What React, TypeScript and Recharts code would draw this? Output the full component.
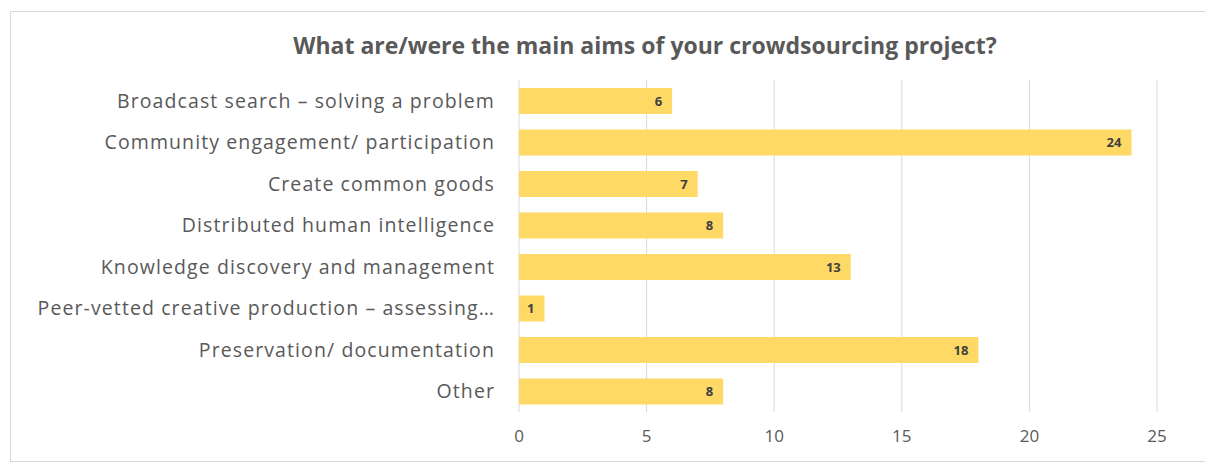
import React from 'react';
import { BarChart, Bar, XAxis, YAxis, CartesianGrid, LabelList } from 'recharts';

const categories = [
  'Broadcast search – solving a problem',
  'Community engagement/ participation',
  'Create common goods',
  'Distributed human intelligence',
  'Knowledge discovery and management',
  'Peer-vetted creative production – assessing…',
  'Preservation/ documentation',
  'Other',
];
const counts = [6, 24, 7, 8, 13, 1, 18, 8];
const xTicks = [0, 5, 10, 15, 20, 25];
const title = 'What are/were the main aims of your crowdsourcing project?';

const data = categories.map((name, i) => ({ name, value: counts[i] }));

const FONT = '"Open Sans", Lato, sans-serif';

export default function App() {
  return (
    <div style={{ position: 'absolute', left: 0, top: 0, width: 1205, height: 465, background: '#fff', fontFamily: FONT }}>
      <div style={{ position: 'absolute', left: 10, top: 11, width: 1200, height: 451, border: '1px solid #d9d9d9', boxSizing: 'border-box' }} />
      <div style={{ position: 'absolute', left: 0, top: 30, width: 1290, textAlign: 'center', fontSize: 23, lineHeight: '30px', fontWeight: 700, color: '#595959' }}>{title}</div>
      <div style={{ position: 'absolute', left: 0, top: 0 }}>
        <BarChart width={1205} height={465} data={data} layout="vertical" margin={{ top: 80, right: 48, bottom: 0, left: 0 }}>
          <CartesianGrid horizontal={false} stroke="#d9d9d9" />
          <XAxis type="number" domain={[0, 25]} ticks={xTicks} axisLine={false} tickLine={false} height={53} tickMargin={12}
            tick={{ fill: '#595959', fontSize: 17, fontFamily: FONT }} />
          <YAxis type="category" dataKey="name" width={519} axisLine={false} tickLine={false} tickMargin={18} interval={0}
            tick={{ fill: '#595959', fontSize: 19.5, fontFamily: FONT, letterSpacing: 1.1 }} />
          <Bar dataKey="value" fill="#FFD966" barSize={26} isAnimationActive={false}>
            <LabelList dataKey="value" position="insideRight" offset={10} fill="#404040" fontSize={13} fontWeight={700} fontFamily={FONT} />
          </Bar>
        </BarChart>
      </div>
    </div>
  );
}
